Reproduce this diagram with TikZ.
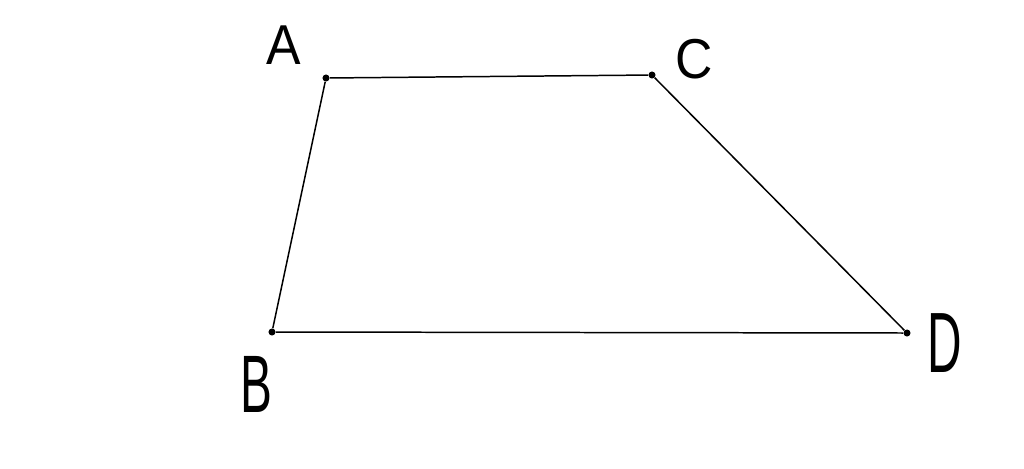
\documentclass[tikz,border=0pt]{standalone}
\usepackage{fontspec}
\setsansfont{Liberation Sans}
\usepackage{tikz}
\usetikzlibrary{positioning}

\begin{document}
\begin{tikzpicture}[
    x=0.02cm, y=-0.02cm,
    vertex/.style={circle, fill=black, inner sep=0pt, minimum size=4pt},
    side/.style={draw=black, line width=0.85pt},
    letter/.style={font=\sffamily\fontsize{32}{32}\selectfont, inner sep=0pt},
    tall/.style={letter, xscale=0.85, yscale=1.45}
]
    \useasboundingbox (0,0) rectangle (1024,468);

    % Vertices
    \node[vertex] (A) at (326,78) {};
    \node[vertex] (C) at (652,75) {};
    \node[vertex] (B) at (272,332) {};
    \node[vertex] (D) at (907,333) {};

    % Labels
    \node[letter, xscale=0.92] (labA) at (284,45) {A};
    \node[letter, xscale=0.92] (labC) at (694,59) {C};
    \node[tall] (labB) at (256,384) {B};
    \node[tall, yscale=1.05] (labD) at (945,343) {D};

    % Sides
    \draw[side] (A) -- (C) -- (D) -- (B) -- (A);

\end{tikzpicture}
\end{document}
